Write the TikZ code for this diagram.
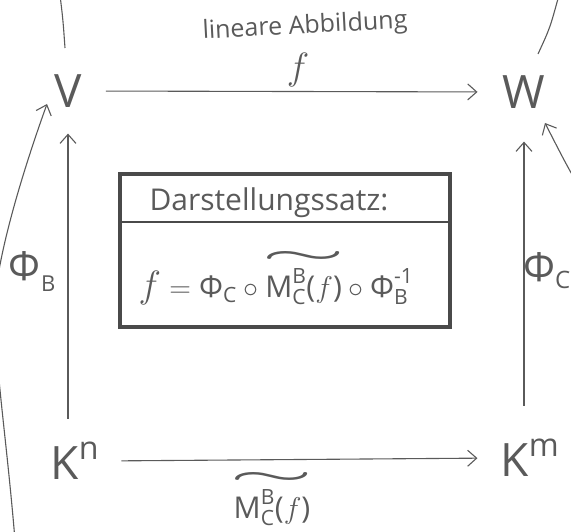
\documentclass[tikz,border=0pt]{standalone}
\usepackage{fix-cm}
\usepackage{amsmath}
\usepackage{graphicx}
\usepackage{fontspec}
\setmainfont{Open Sans}
\usetikzlibrary{arrows.meta}
\definecolor{pencil}{HTML}{5A5A5A}
\definecolor{pencildark}{HTML}{4A4A4A}
\newcommand\tx[1]{\text{#1}}
\newcommand\wavy[1]{\setbox0=\hbox{#1}\vbox{\hbox to \wd0{\hss\resizebox{1.1\wd0}{11pt}{$\boldsymbol{\sim}$}\hss}\kern-1pt\box0}}
\newcommand\bigf{\hbox{\fontsize{38}{42}\selectfont$f$}}
\newcommand\lowsub[3]{\raisebox{#2}{\fontsize{#3}{#3}\selectfont #1}}
\tikzset{
  arr/.style={draw=pencil, line width=1.1pt, -{Straight Barb[length=9pt,width=16pt,line width=1.1pt]}},
  plain/.style={draw=pencil, line width=1.1pt},
  obj/.style={text=pencil, font=\fontsize{46}{52}\selectfont, inner sep=2pt},
  lbl/.style={text=pencil, font=\fontsize{30}{36}\selectfont, inner sep=1pt},
  toplbl/.style={text=pencil, font=\fontsize{25}{30}\selectfont, inner sep=0pt},
  sidelbl/.style={text=pencil, font=\fontsize{40}{46}\selectfont, inner sep=1pt},
  boxframe/.style={draw=pencildark, line width=4.5pt},
  divider/.style={draw=pencildark, line width=2.5pt}
}
\begin{document}
\begin{tikzpicture}[x=1pt,y=-1pt]
\useasboundingbox (0,0) rectangle (571,532);
\clip (0,0) rectangle (571,532);
% objects
\node[obj] (V) at (68,91) {V};
\node[obj] (W) at (524,92) {W};
\node[obj] (Kn) at (75,461) {$\tx{K}^{\tx{n}}$};
\node[obj] (Km) at (530,458) {$\tx{K}^{\tx{m}}$};
% labels
\node[toplbl, rotate=3] (lin) at (305,27) {lineare Abbildung};
\node[lbl] (f) at (298,70) {\bigf};
\node[sidelbl, anchor=base west] (PhiB) at (7,280) {Φ\kern1pt\lowsub{B}{-11pt}{22}};
\node[sidelbl, anchor=base west] (PhiC) at (522,281) {Φ\lowsub{C}{-7pt}{24}};
\node[lbl] (Mb) at (272,499) {\wavy{$\tx{M}^{\tx{B}}_{\tx{C}}\tx{(}f\tx{)}$}};
% box
\coordinate (boxNW) at (120,174);
\coordinate (boxSE) at (450,327);
\draw[boxframe] (boxNW) rectangle (boxSE);
\coordinate (divL) at (120,222);
\coordinate (divR) at (450,222);
\draw[divider] (divL) -- (divR);
\node[lbl] (title) at (269,203) {Darstellungssatz:};
\node[lbl] (formula) at (276,278) {$\bigf=\tx{Φ}_{\tx{C}}\circ\mathord{\wavy{$\tx{M}^{\tx{B}}_{\tx{C}}\tx{(}f\tx{)}$}}\circ\tx{Φ}^{\tx{-1}}_{\tx{B}}$};
% arrows
\draw[arr, shorten <=22pt, shorten >=23pt] (V.east) -- (W.west);
\draw[arr, shorten <=20pt, shorten >=21pt] (Kn.east) -- (Km.west);
\draw[arr, shorten <=21pt, shorten >=24pt] (Kn.north -| V) -- (V.south);
\draw[arr, shorten <=31pt, shorten >=31pt] (Km.north -| W) -- (W.south);
% edge curves
\coordinate (tl1) at (60,-5);
\coordinate (tl2) at (65,48);
\draw[plain] (tl1) .. controls (63,20) .. (tl2);
\coordinate (tr1) at (559,-5);
\coordinate (tr2) at (538,54);
\draw[plain] (tr1) .. controls (550,28) .. (tr2);
\coordinate (lb) at (15,540);
\coordinate (lm) at (-4,290);
\coordinate (lt) at (47,104);
\draw[arr] (lb) .. controls (5,420) and (-8,350) .. (lm) .. controls (2,240) and (25,165) .. (lt);
\coordinate (rb) at (590,205);
\coordinate (rt) at (545,123);
\draw[arr] (rb) .. controls (568,168) .. (rt);
\end{tikzpicture}
\end{document}
